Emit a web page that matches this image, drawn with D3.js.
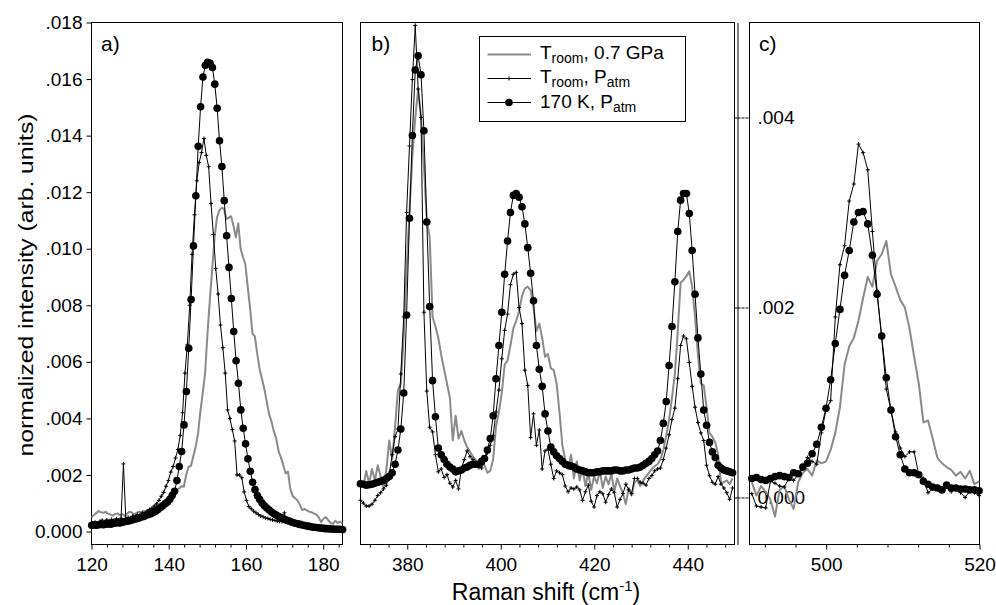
<!DOCTYPE html>
<html>
<head>
<meta charset="utf-8">
<script src="https://cdn.jsdelivr.net/npm/d3@7"></script>
<style>
  body { margin: 0; background: #fff; }
  svg { display: block; font-family: "Liberation Sans", Arial, Helvetica, sans-serif; }
</style>
</head>
<body>
<svg id="chart" width="996" height="605"></svg>
<script>
// ---------- spectra (normalized intensity) on uniform wavenumber grids ----------
// panel a: 120-185 cm-1
const gridA170 = { start: 120.05, step: 0.613 };
const a170K = [
  .00022,.00023,.00022,.00024,.00025,.00024,.00026,.00027,.00026,.00028,
  .00030,.00031,.00030,.00033,.00035,.00036,.00038,.00041,.00043,.00045,
  .00048,.00051,.00053,.00057,.00060,.00063,.00067,.00072,.00078,.00085,
  .00091,.00098,.00104,.00114,
  .00127,.00142,.0018,.0023,.00283,.00377,.00495,.00648,.0082,.0101,
  .01187,.01362,.01502,.01607,.01649,.01659,.01656,.01641,.01582,.01497,
  .01382,.01291,.0117,.01046,.00934,.00824,.00707,.00604,.00524,.0043,
  .00365,.0031,.00257,.00213,.00174,.00148,.00127,
  .00113,.00101,.00091,.00083,.00076,.00069,.00063,.00058,.00053,.00049,
  .00045,.00041,.00038,.00035,.00032,.00029,.00027,.00025,.00023,.00021,
  .00019,.00018,.00016,.00015,.00014,.00013,.00012,.00011,.00010,.00010,
  .00009,.00009,.00008,.00008,.00008,.00007
];
const gridARoom = { start: 120.3, step: 0.613 };
const aRoomAtm = [
  .00030,.00033,.00028,.00036,.00040,.00034,.00041,.00037,.00043,.00039,
  .00045,.00041,.00047,.00239,.00046,.00050,.00048,.00055,.00052,.00060,
  .00057,.00066,.00063,.00072,.00078,.00082,.00090,.00098,.00110,.00125,
  .00138,.00160,.00180,.00210,.00230,.00260,.00290,.00340,.00420,.00560,
  .00660,.00800,.00980,.01120,.01240,.01305,.01340,.01390,.01330,.01290,
  .01160,.01050,.00930,.00840,.00730,.00650,.00560,.00430,.00400,.00360,
  .00320,.00200,.00200,.00190,.00140,.00110,.00088,.00080,.00072,.00066,
  .00060,.00055,.00052,.00048,.00046,.00043,.00041,.00039,.00037,.00036,
  .00035,.00066,.00033,.00031,.00029,.00027,.00026,.00028,.00022,.00020,
  .00018,.00016,.00013,.00011,.00009,.00008,.00006,.00007,.00004,.00005,
  .00003,.00004,.00002,.00003,.00002,.00003
];
const gridAGPa = { start: 120.0, step: 0.613 };
const aRoomGPa = [
  .00050,.00058,.00065,.00072,.00068,.00066,.00070,.00063,.00060,.00056,
  .00062,.00064,.00058,.00061,.00055,.00063,.00070,.00067,.00060,.00066,
  .00070,.00068,.00073,.00071,.00076,.00080,.00083,.00087,.00092,.00096,
  .00102,.00108,.00113,.00120,.00128,.00138,.00146,.00152,.00160,.00158,
  .00200,.00228,.00232,.00265,.00300,.00345,.00425,.00490,.00560,.00700,
  .00820,.00930,.01040,.01110,.01135,.01145,.01140,.01105,.01110,.01115,
  .01080,.01040,.01090,.01000,.00970,.00945,.00865,.00790,.00700,.00690,
  .00630,.00575,.00540,.00505,.00460,.00416,.00390,.00355,.00330,.00285,
  .00262,.00235,.00205,.00212,.00150,.00125,.00118,.00110,.00095,.00076,
  .00080,.00075,.00070,.00068,.00063,.00060,.00050,.00033,.00045,.00051,
  .00040,.00030,.00027,.00038,.00030,.00035,.00028
];

// panel b: 370-450 cm-1
const gridB = { start: 369.99, step: 0.617 };
const b170K = [
  .000144,.00014,.00013,.000134,.00014,.00015,.00016,.00017,.00018,.0002,
  .00022,.00026,.00035,.0005,.00072,.0011,.00192,.00294,.00381,.0045,
  .00465,.00445,.00386,.0029,.00201,.00123,.00085,.00052,.00045,.0004,
  .00035,.00032,.0003,.00027,.00028,.00029,.00031,.00032,.00034,.00035,
  .00035,.00035,.00038,.00041,.0005,.00062,.00086,.00125,.0016,.00195,
  .00235,.0027,.003,.00318,.0032,.00316,.00306,.00288,.00263,.00236,
  .00207,.0016,.00135,.00117,.00088,.0007,.00053,.00048,.00044,.00041,
  .00038,.00035,.00034,.00033,.00032,.0003,.00029,.00028,.00027,.00026,
  .00026,.00026,.00027,.00027,.00028,.00028,.00028,.00028,.00029,.00029,
  .00028,.00028,.00029,.00029,.0003,.00031,.00031,.00032,.00034,.00036,
  .00038,.00041,.00045,.00049,.0006,.00078,.00101,.00139,.0018,.00227,
  .0028,.00313,.0032,.0032,.00299,.0026,.00214,.00168,.0013,.00092,
  .00076,.00058,.00048,.00042,.00034,.00031,.00029,.00028,.00027,.00026
];
const bRoomAtm = [
  -.00003,-.00006,-.00009,-.00009,-.00007,-.00003,.00002,.00005,.00009,.00013,
  .00025,.00045,.00064,.00072,.0013,.0019,.0030,.0037,.0044,.00497,
  .0043,.004,.00195,.00112,.00074,.00069,.00045,.00027,.0003,.00021,
  .00024,.00015,.00011,.00018,.00009,.0003,.0004,.00049,.00043,.0004,
  .00035,.00033,.00031,.00038,.00047,.00055,.00065,.0009,.00113,.00146,
  .00176,.00193,.00224,.00235,.00237,.002,.00183,.00134,.00118,.00063,
  .00088,.00055,.00071,.0003,.00049,.00051,.00035,.0002,.00028,.00026,
  .00024,.00012,.00006,.0001,.00009,.00011,.00008,-.00003,.00006,.00013,
  -.00004,-.0001,.00002,.00006,.00004,-.00005,.00003,.00009,.00005,-.0001,
  -.00002,.00004,.00014,.00008,.00004,.0002,.0002,.00016,.00015,.00013,
  .0002,.00023,.00028,.0003,.00031,.0004,.00052,.00066,.00082,.00094,
  .00125,.0016,.0017,.00167,.00142,.00117,.00095,.00079,.00068,.0006,
  .00034,.00023,.00016,.00014,.00022,.00014,.0001,.00005,-.00002,.0001
];
const bRoomGPa = [
  .00018,.00012,.00028,.00015,.0003,.00018,.00034,.00022,.0001,.0003,
  .0006,.0004,.00075,.00113,.0012,.0017,.0024,.003,.0036,.004,
  .0043,.004,.0035,.00292,.00274,.0019,.0018,.00168,.0015,.00135,
  .0012,.00105,.0006,.00086,.00062,.0007,.0006,.00053,.00048,.00043,
  .00039,.0003,.00036,.00034,.00026,.00028,.0004,.00075,.0009,.0011,
  .0014,.00144,.0016,.00178,.00186,.00196,.00212,.0022,.00222,.00218,
  .002,.00175,.00183,.00168,.00148,.00151,.00136,.00134,.0012,.0009,
  .00055,.0004,.0003,.00045,.0002,.00038,.00018,.0003,.00012,.00026,
  .00008,.00022,.00015,.00028,.0001,.00022,.00014,.00025,.00006,.0002,
  .00012,.00004,-.00007,.0001,.00002,.00016,.00018,.00012,.00018,.00022,
  .00026,.0003,.00033,.00035,.0004,.0005,.00065,.00082,.00105,.0013,
  .00175,.00226,.00229,.00233,.00238,.00222,.0019,.0015,.0012,.00118,
  .00095,.00068,.00064,.00058,.00045,.00015,.00016,.00018,.00014,.0002
];

// panel c: 490-520 cm-1
const gridC = { start: 490.3, step: 0.605 };
const c170K = [
  .0002,.00021,.00019,.00018,.0002,.00022,.00023,.00022,.00021,.00026,
  .00025,.00032,.00036,.00046,.00056,.00074,.00094,.00124,.00162,.00198,
  .00234,.0026,.0029,.003,.00301,.00288,.00255,.00214,.0017,.00126,
  .00092,.00064,.00045,.0003,.00026,.00026,.00024,.00017,.00014,.00011,
  .0001,.00008,.00013,.0001,.0001,.00009,.00009,.00008,.00008,.00007
];
const cRoomAtm = [
  .00004,-.00009,-.0001,-.00011,.00017,.00015,.00012,.00011,.0002,.00018,
  .00024,.0003,.00042,.00038,.00035,.00068,.00092,.00102,.0019,.00245,
  .00265,.00312,.0033,.00372,.00363,.00345,.0028,.00218,.00168,.00114,
  .00092,.00069,.00052,.00043,.00048,.00048,.00024,.0002,.00005,.00009,
  .00012,.00008,.00011,.00006,.00009,.00005,0,.00007,.00005,.00002
];
const cRoomGPa = [
  .00016,.00002,.00012,.00006,-.00002,-.0002,.00008,.00012,-.00002,-.00012,
  .00016,.00026,.0003,.00023,.00039,.00036,.00038,.0005,.00068,.00095,
  .0014,.00159,.00168,.00186,.0021,.00232,.00222,.00249,.00256,.0027,
  .00235,.00222,.00208,.002,.00178,.00148,.0012,.00079,.00081,.00062,
  .00042,.00036,.00032,.00029,.00023,.00027,.0002,.00028,.00014,.00017
];

// ---------- axis ticks and labels ----------
const xTicksA = [120, 140, 160, 180];
const xMinorA = [124, 128, 132, 136, 144, 148, 152, 156, 164, 168, 172, 176, 184];
const xTicksB = [380, 400, 420, 440];
const xMinorB = [372, 376, 384, 388, 392, 396, 404, 408, 412, 416, 424, 428, 432, 436, 444, 448];
const xTicksC = [500, 520];
const xMinorC = [492, 496, 504, 508, 512, 516];
const yTicksA = [0, .002, .004, .006, .008, .010, .012, .014, .016, .018];
const yLabelsA = ["0.000", ".002", ".004", ".006", ".008", ".010", ".012", ".014", ".016", ".018"];
const yTicksBC = [0, .002, .004];
const yLabelsBC = ["0.000", ".002", ".004"];
const panelNames = ["a)", "b)", "c)"];
const legendLabels = [
  { main: "T", sub: "room", rest: ", 0.7 GPa" },
  { main: "T", sub: "room", rest: ", P", sub2: "atm" },
  { main: "170 K, P", sub: "atm", rest: "" }
];

// ---------- layout ----------
const plotTop = 22.5, plotBottom = 544.5;
const xA = d3.scaleLinear([120, 185], [91.5, 342.5]);
const xB = d3.scaleLinear([370, 450], [360.5, 734.5]);
const xC = d3.scaleLinear([490, 520], [749.5, 979.5]);
const yA = d3.scaleLinear([-0.00046, 0.018], [plotBottom, plotTop]);
const yBC = d3.scaleLinear([-0.000495, 0.005], [plotBottom, plotTop]);

const svg = d3.select("#chart");
const FONT = '"Liberation Sans", Arial, Helvetica, sans-serif';
const GRAY = "#8a8a8a";

// frames
[xA, xB, xC].forEach(x => {
  const [x0, x1] = x.range();
  svg.append("rect").attr("x", x0).attr("y", plotTop).attr("width", x1 - x0).attr("height", plotBottom - plotTop)
    .attr("fill", "none").attr("stroke", "#000").attr("stroke-width", 1);
});

function styleAxis(g, size) {
  g.attr("font-family", FONT).attr("font-size", size);
  g.selectAll("text").attr("fill", "#000");
  g.selectAll("line").attr("stroke", "#000");
}

// bottom axes (major + minor ticks)
[[xA, xTicksA, xMinorA], [xB, xTicksB, xMinorB], [xC, xTicksC, xMinorC]].forEach(([x, maj, min]) => {
  svg.append("g").attr("transform", `translate(0,${plotBottom})`)
    .call(d3.axisBottom(x).tickValues(min).tickSize(3).tickFormat(""))
    .call(g => g.select(".domain").remove())
    .call(g => styleAxis(g, 19));
  svg.append("g").attr("transform", `translate(0,${plotBottom})`)
    .call(d3.axisBottom(x).tickValues(maj).tickSize(5).tickPadding(8).tickFormat(d3.format("d")))
    .call(g => g.select(".domain").remove())
    .call(g => styleAxis(g, 19));
});

// left axis of panel a
svg.append("g").attr("transform", `translate(${xA.range()[0]},0)`)
  .call(d3.axisLeft(yA).tickValues(yTicksA).tickSize(5).tickPadding(4)
    .tickFormat((d, i) => yLabelsA[i]))
  .call(g => g.select(".domain").remove())
  .call(g => styleAxis(g, 19));

// shared intensity axis for panels b and c
const rightAxisX = 737.5;
svg.append("g").attr("transform", `translate(${rightAxisX},0)`)
  .call(d3.axisRight(yBC).tickValues(yTicksBC).tickSize(12).tickSizeOuter(0).tickPadding(8)
    .tickFormat((d, i) => yLabelsBC[i]))
  .call(g => styleAxis(g, 19))
  .call(g => g.select(".domain").attr("stroke", "#000"))
  .call(g => g.selectAll(".tick line").attr("stroke-dasharray", "3,1"))
  .call(g => g.selectAll(".tick").append("line").attr("x1", -3).attr("x2", 0).attr("stroke", "#000"));

// panel letters
[[panelNames[0], 101], [panelNames[1], 371.5], [panelNames[2], 759]].forEach(([t, px]) => {
  svg.append("text").attr("x", px).attr("y", 51).attr("font-family", FONT).attr("font-size", 21).text(t);
});

// axis titles
svg.append("text")
  .attr("transform", "translate(33,285) rotate(-90)")
  .attr("text-anchor", "middle").attr("font-family", FONT).attr("font-size", 21)
  .attr("textLength", 343).attr("lengthAdjust", "spacingAndGlyphs")
  .text("normalized intensity (arb. units)");

const xTitle = svg.append("text").attr("x", 546).attr("y", 600)
  .attr("text-anchor", "middle").attr("font-family", FONT).attr("font-size", 23);
xTitle.append("tspan").text("Raman shift (cm");
xTitle.append("tspan").attr("font-size", 15).attr("dy", -9).text("-1");
xTitle.append("tspan").attr("dy", 9).text(")");

// ---------- spectra ----------
function drawSeries(x, y, grid, values, kind) {
  const pts = values.map((v, i) => [grid.start + i * grid.step, v]);
  const line = d3.line().x(d => x(d[0])).y(d => y(d[1]));
  const g = svg.append("g");
  if (kind === "gpa") {
    g.append("path").attr("d", line(pts)).attr("fill", "none")
      .attr("stroke", GRAY).attr("stroke-width", 2).attr("stroke-linejoin", "round");
  } else if (kind === "atm") {
    g.append("path").attr("d", line(pts)).attr("fill", "none")
      .attr("stroke", "#000").attr("stroke-width", 1);
    g.selectAll("path.m").data(pts).join("path").attr("class", "m")
      .attr("transform", d => `translate(${x(d[0])},${y(d[1])})`)
      .attr("d", "M-2,0H2M0,-2V2").attr("stroke", "#000").attr("stroke-width", 1);
  } else {
    g.append("path").attr("d", line(pts)).attr("fill", "none")
      .attr("stroke", "#000").attr("stroke-width", 1);
    g.selectAll("circle").data(pts).join("circle")
      .attr("cx", d => x(d[0])).attr("cy", d => y(d[1])).attr("r", 3.8).attr("fill", "#000");
  }
}

drawSeries(xA, yA, gridAGPa, aRoomGPa, "gpa");
drawSeries(xA, yA, gridARoom, aRoomAtm, "atm");
drawSeries(xA, yA, gridA170, a170K, "cold");

drawSeries(xB, yBC, gridB, bRoomGPa, "gpa");
drawSeries(xB, yBC, gridB, bRoomAtm, "atm");
drawSeries(xB, yBC, gridB, b170K, "cold");

drawSeries(xC, yBC, gridC, cRoomGPa, "gpa");
drawSeries(xC, yBC, gridC, cRoomAtm, "atm");
drawSeries(xC, yBC, gridC, c170K, "cold");

// ---------- legend ----------
const lg = svg.append("g");
lg.append("rect").attr("x", 479.5).attr("y", 36.5).attr("width", 206).attr("height", 85)
  .attr("fill", "#fff").attr("stroke", "#000").attr("stroke-width", 1);
const rowY = [54.5, 78.5, 102.5];
const kinds = ["gpa", "atm", "cold"];
rowY.forEach((ry, i) => {
  const k = kinds[i];
  lg.append("line").attr("x1", 487.5).attr("x2", 531).attr("y1", ry).attr("y2", ry)
    .attr("stroke", k === "gpa" ? GRAY : "#000").attr("stroke-width", k === "gpa" ? 2 : 1);
  if (k === "atm") lg.append("path").attr("transform", `translate(509,${ry})`)
    .attr("d", "M-2,0H2M0,-2V2").attr("stroke", "#000");
  if (k === "cold") lg.append("circle").attr("cx", 509).attr("cy", ry).attr("r", 3.8).attr("fill", "#000");
  const lab = legendLabels[i];
  const t = lg.append("text").attr("x", 540).attr("y", ry + (i === 2 ? 5 : 4.5))
    .attr("font-family", FONT).attr("font-size", 19);
  t.append("tspan").text(lab.main);
  t.append("tspan").attr("font-size", 14).attr("dy", 4).text(lab.sub);
  if (lab.rest) t.append("tspan").attr("dy", -4).text(lab.rest);
  if (lab.sub2) t.append("tspan").attr("font-size", 14).attr("dy", 4).text(lab.sub2);
});
</script>
</body>
</html>
